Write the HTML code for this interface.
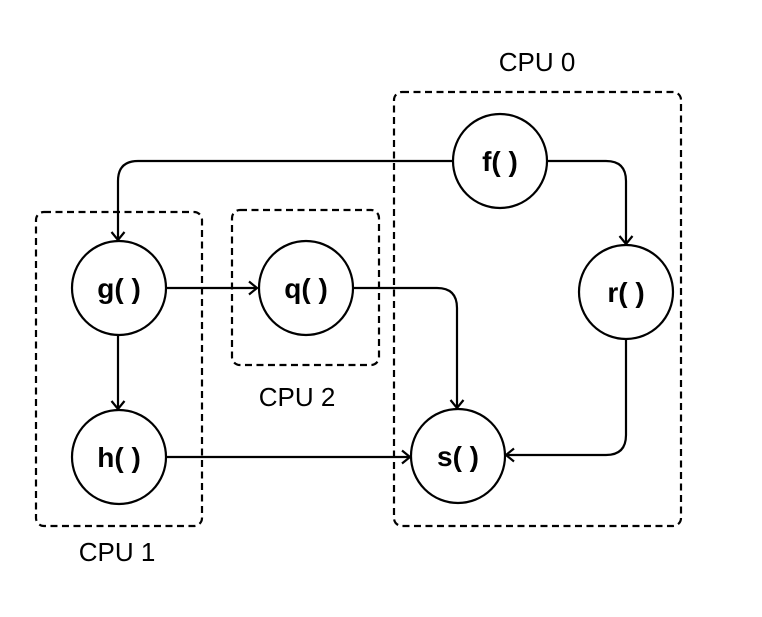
<!DOCTYPE html>
<html><head><style>body{margin:0;background:#fff}</style></head><body>
<svg width="762" height="612" viewBox="0 0 762 612" xmlns="http://www.w3.org/2000/svg">
<defs><marker id="a" markerWidth="12" markerHeight="16" refX="10" refY="8" orient="auto" markerUnits="userSpaceOnUse"><path d="M2,1.5 L10,8 L2,14.5" fill="none" stroke="#000" stroke-width="2.2"/></marker></defs>
<g fill="none" stroke="#000" stroke-width="2.2" stroke-dasharray="7,4.5">
<rect x="394" y="92" width="287" height="434" rx="8"/>
<rect x="36" y="212" width="166" height="314" rx="8"/>
<rect x="232" y="210" width="147" height="155" rx="8"/>
</g>
<g fill="none" stroke="#000" stroke-width="2.2" marker-end="url(#a)">
<path d="M453,161 H138 Q118,161 118,181 V240"/>
<path d="M547,161 H606 Q626,161 626,181 V244"/>
<path d="M166,288 H257"/>
<path d="M353,288 H437 Q457,288 457,308 V408"/>
<path d="M626,339 V435 Q626,455 606,455 H506"/>
<path d="M118,335 V409"/>
<path d="M166,457 H410"/>
</g>
<g fill="#fff" stroke="#000" stroke-width="2.2">
<circle cx="500" cy="161" r="47"/>
<circle cx="119" cy="288" r="47"/>
<circle cx="306" cy="288" r="47"/>
<circle cx="626" cy="292" r="47"/>
<circle cx="119" cy="457" r="47"/>
<circle cx="458" cy="456" r="47"/>
</g>
<g font-family="Liberation Sans, sans-serif" font-size="28" text-anchor="middle">
<g font-weight="bold">
<text x="500" y="171">f( )</text>
<text x="119" y="298">g( )</text>
<text x="306" y="298">q( )</text>
<text x="626" y="302">r( )</text>
<text x="119" y="467">h( )</text>
<text x="458" y="466">s( )</text>
</g>
<g font-size="26">
<text x="537" y="71">CPU 0</text>
<text x="297" y="406">CPU 2</text>
<text x="117" y="561">CPU 1</text>
</g>
</g>
</svg>
</body></html>
